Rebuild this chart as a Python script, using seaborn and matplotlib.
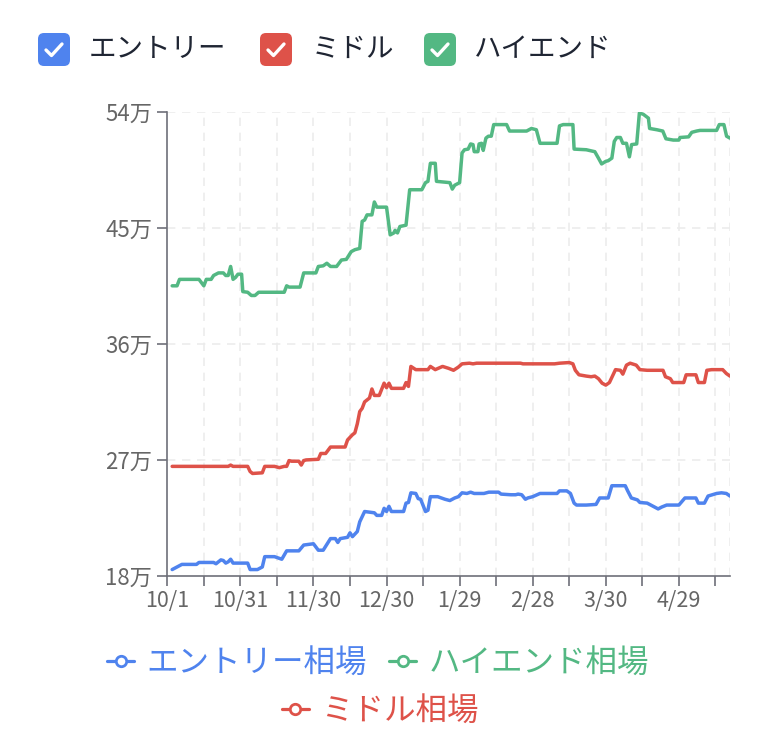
import matplotlib
matplotlib.use("Agg")
import matplotlib.pyplot as plt
import seaborn as sns
import pandas as pd
from matplotlib.patches import FancyBboxPatch
from matplotlib.lines import Line2D
from matplotlib.transforms import Affine2D

# ---------------- data ----------------
start_date = "2022-10-01"
n_days = 232                      # category count (daily)
y_ticks = [18, 27, 36, 45, 54]    # 万円
y_labels = ["18万", "27万", "36万", "45万", "54万"]

series_names = ["エントリー", "ミドル", "ハイエンド"]
legend_names = ["エントリー相場", "ハイエンド相場", "ミドル相場"]

# (day index from 10/1, price in 万円)
entry = [(2, 18.5), (4, 18.7), (6, 18.9), (12, 18.9), (13, 19.05), (19, 19.05), (20, 18.95), (22, 19.25),
         (23, 19.2), (24, 19.0), (25, 19.1), (26, 19.3), (27, 19.0), (33, 19.0), (34, 18.5), (37, 18.5),
         (39, 18.7), (40, 19.5), (44, 19.5), (47, 19.3), (49, 19.95), (54, 19.95), (56, 20.4), (60, 20.5),
         (62, 20.0), (64, 20.0), (65, 20.3), (67, 20.9), (69, 20.9), (70, 20.6), (71, 20.9), (74, 21.0),
         (75, 21.35), (76, 21.05), (78, 21.45), (79, 22.2), (81, 23.0), (85, 22.9), (86, 22.7), (88, 22.7),
         (89, 23.25), (90, 23.0), (91, 23.4), (92, 23.0), (97, 23.0), (98, 23.65), (99, 23.7), (100, 24.45),
         (102, 24.4), (103, 24.0), (104, 23.95), (106, 23.0), (107, 23.1), (108, 24.15), (111, 24.15),
         (114, 23.95), (116, 23.85), (118, 24.05), (119.5, 24.15), (121, 24.45), (123, 24.4), (124.5, 24.5),
         (126, 24.4), (130, 24.4), (132, 24.5), (136, 24.5), (137, 24.35), (141, 24.3), (143, 24.3),
         (144, 24.35), (145.5, 24.3), (147, 23.95), (148, 24.05), (150, 24.15), (153, 24.4), (160, 24.4),
         (161, 24.6), (164, 24.6), (165.5, 24.4), (167, 23.65), (168, 23.5), (172, 23.5), (176, 23.55),
         (177.5, 24.05), (181, 24.05), (182.5, 25.0), (188, 25.0), (189, 24.6), (190.5, 24.05), (193, 23.9),
         (194, 23.7), (197, 23.65), (200, 23.35), (201.5, 23.2), (203, 23.35), (205, 23.5), (210, 23.5),
         (212.5, 24.05), (217, 24.05), (218, 23.65), (220.5, 23.65), (222, 24.2), (225.5, 24.4),
         (227.5, 24.45), (229.5, 24.4), (231, 24.2)]

middle = [(2, 26.5), (25, 26.5), (26, 26.6), (27, 26.5), (33, 26.5), (34, 26.1), (35, 25.95), (39, 26.0),
          (40, 26.5), (44, 26.5), (46, 26.4), (48, 26.5), (49, 26.5), (50, 26.95), (51, 26.9), (54, 26.9),
          (55, 26.6), (56, 26.95), (57, 27.0), (62, 27.05), (63, 27.5), (65, 27.5), (67, 28.0), (73, 28.0),
          (74, 28.55), (76, 28.95), (77, 29.1), (78, 29.8), (79, 30.75), (80, 31.0), (81, 31.5), (83, 31.8),
          (84, 32.5), (85, 32.0), (87, 32.0), (89, 32.95), (90, 32.6), (91, 32.95), (92, 32.55), (97, 32.55),
          (98, 33.0), (99, 32.7), (100, 34.25), (102, 34.0), (107, 34.0), (108, 34.25), (110, 34.0),
          (113, 34.25), (115.5, 34.1), (117.5, 33.95), (119.5, 34.2), (121, 34.45), (124, 34.5),
          (125.5, 34.45), (127, 34.5), (145, 34.5), (146, 34.45), (159, 34.45), (161, 34.5), (165, 34.55),
          (166.5, 34.45), (167.5, 33.95), (169, 33.6), (172, 33.5), (174, 33.45), (175.5, 33.5), (177, 33.3),
          (178.5, 32.95), (180, 32.8), (181.5, 33.0), (183, 33.6), (184, 34.0), (186, 33.95), (187, 33.65),
          (188.5, 34.35), (190, 34.5), (192.5, 34.35), (194, 34.0), (197, 33.95), (203.5, 33.95),
          (204.5, 33.45), (206.5, 33.3), (207.5, 33.0), (212, 33.0), (213, 33.6), (217, 33.6), (218, 33.0),
          (220.5, 33.0), (221.5, 33.95), (223.5, 34.0), (228, 34.0), (229.5, 33.7), (231, 33.5)]

high = [(2, 40.5), (4, 40.5), (5, 41.0), (13, 41.0), (15, 40.5), (16, 41.0), (18, 41.0), (19, 41.3),
        (21, 41.5), (23, 41.5), (24, 41.3), (25, 41.3), (26, 42.0), (27, 41.0), (28, 41.15), (29, 41.4),
        (30.5, 41.4), (31, 40.05), (33, 40.0), (34.5, 39.75), (36, 39.75), (37.5, 40.0), (48, 40.0),
        (49, 40.5), (50, 40.4), (54.5, 40.4), (56, 41.5), (61, 41.5), (62, 42.0), (64, 42.05), (65.5, 42.25),
        (67, 42.0), (69.5, 42.0), (71.5, 42.5), (73.5, 42.55), (75.5, 43.15), (77, 43.3), (79, 43.4),
        (80, 45.5), (81, 45.6), (82, 46.0), (84, 46.0), (85, 47.0), (86, 46.6), (90, 46.6), (91.5, 44.45),
        (93, 44.6), (93.5, 44.8), (94.5, 44.6), (95.5, 45.1), (98, 45.2), (99.5, 47.95), (104.5, 47.95),
        (106, 48.5), (107, 48.6), (108, 50.0), (110, 50.0), (110.5, 48.6), (116, 48.5), (117, 48.0),
        (118, 48.3), (120, 48.5), (121, 50.8), (122, 51.05), (123.5, 51.1), (124.5, 51.5), (125.5, 51.45),
        (126, 50.9), (127.5, 50.9), (128, 51.5), (129, 51.55), (129.7, 51.0), (130.8, 51.95), (131.8, 52.1),
        (133, 52.1), (134, 53.0), (139.3, 53.0), (140.5, 52.5), (147.5, 52.5), (149.5, 52.7), (151.5, 52.6),
        (153, 51.55), (160, 51.55), (161, 52.9), (162.5, 53.0), (166.5, 53.0), (167, 51.1), (172, 51.05),
        (175.5, 50.9), (177, 50.4), (178.3, 49.95), (180, 50.15), (181, 50.2), (182.5, 50.4), (183.5, 51.7),
        (184.5, 52.0), (186, 52.0), (187, 51.55), (188.5, 51.55), (189.7, 50.5), (190.6, 51.45),
        (192.7, 51.5), (193.8, 53.9), (195.4, 53.8), (197.5, 53.5), (198, 52.7), (201, 52.6), (203.4, 52.5),
        (204.7, 51.9), (207.7, 51.8), (210, 51.8), (210.5, 52.0), (214, 52.05), (215.3, 52.4), (217.3, 52.5),
        (218.7, 52.55), (225.5, 52.55), (226.6, 53.0), (228.5, 53.0), (229.6, 52.1), (231, 51.95)]

# ---------------- style ----------------
colors = {"エントリー": "#4f83ee", "ミドル": "#de5249", "ハイエンド": "#53b883"}
axis_col = "#6E7079"
label_col = "#666666"
grid_col = "#ececec"

sns.set_theme(style="white")
plt.rcParams["font.family"] = ["Noto Sans CJK JP", "DejaVu Sans"]

W, H, DPI = 778, 752, 100
fig = plt.figure(figsize=(W / DPI, H / DPI), dpi=DPI)
pix = Affine2D().scale(1 / DPI, -1 / DPI).translate(0, H / DPI) + fig.dpi_scale_trans

L, R, T, B = 167.3, 730.0, 111.7, 576.0
ax = fig.add_axes([L / W, 1 - B / H, (R - L) / W, (B - T) / H])

frames = []
for name, pts in zip(series_names, [entry, middle, high]):
    frames.append(pd.DataFrame({"day": [p[0] for p in pts],
                                "value": [p[1] for p in pts],
                                "series": name}))
df = pd.concat(frames, ignore_index=True)

sns.lineplot(data=df, x="day", y="value", hue="series", hue_order=series_names,
             palette=colors, estimator=None, sort=False, legend=False,
             linewidth=2.5, ax=ax, zorder=3)
for ln in ax.lines:
    ln.set_solid_joinstyle("round")
    ln.set_solid_capstyle("round")

# axes
ax.set_xlim(0, n_days - 1)
ax.set_ylim(y_ticks[0], y_ticks[-1])
dates = pd.date_range(start_date, periods=n_days)
xt = list(range(0, n_days - 1, 15))
ax.set_xticks(xt)
ax.set_xticklabels([f"{dates[i].month}/{dates[i].day}" if i % 30 == 0 else "" for i in xt])
ax.set_yticks(y_ticks)
ax.set_yticklabels(y_labels)
ax.set_xlabel("")
ax.set_ylabel("")

for s in ["top", "right"]:
    ax.spines[s].set_visible(False)
for s in ["left", "bottom"]:
    ax.spines[s].set_color(axis_col)
    ax.spines[s].set_linewidth(1.2)
ax.tick_params(axis="both", which="major", length=7.5, width=1.2, color=axis_col,
               labelcolor=label_col)
ax.tick_params(axis="x", pad=2.5, bottom=True, labelsize=15.5)
ax.tick_params(axis="y", pad=3.5, left=True, labelsize=16)

# dashed grid
for x in xt[1:] + [n_days - 1]:
    ax.axvline(x, color=grid_col, lw=1.2, ls=(0, (5, 4)), zorder=1)
for y in y_ticks[1:]:
    ax.axhline(y, color=grid_col, lw=1.2, ls=(0, (5, 4)), zorder=1)

# top legend (checkbox style)
top_items = [(38, 89, "エントリー"), (260, 312, "ミドル"), (424, 474, "ハイエンド")]
for bx, tx, name in top_items:
    box = FancyBboxPatch((bx, 33), 32, 33, boxstyle="round,pad=0,rounding_size=6",
                         transform=pix, facecolor=colors[name], edgecolor="none")
    fig.add_artist(box)
    chk = Line2D([bx + 8, bx + 13.5, bx + 24], [50, 55.5, 44], transform=pix, color="white",
                 lw=2.4, solid_capstyle="round", solid_joinstyle="round")
    fig.add_artist(chk)
    fig.text(tx, 49.5, name, transform=pix, ha="left", va="center", fontsize=19.8, color="#1f2533")

# bottom legend
def handle(name):
    return Line2D([], [], color=colors[name], lw=2.3, marker="o", markersize=7.5,
                  markerfacecolor="white", markeredgewidth=2.0, markeredgecolor=colors[name])

row1 = [handle("エントリー"), handle("ハイエンド")]
row2 = [handle("ミドル")]
leg_kw = dict(loc="center", bbox_transform=pix, frameon=False, fontsize=22.7,
              handlelength=0.87, handletextpad=0.38, labelcolor="linecolor",
              borderpad=0, borderaxespad=0)
fig.legend(row1, legend_names[:2], ncol=2, bbox_to_anchor=(378, 663), columnspacing=0.7, **leg_kw)
fig.legend(row2, legend_names[2:], ncol=1, bbox_to_anchor=(380, 711), **leg_kw)

fig.savefig("out.png", dpi=DPI)
